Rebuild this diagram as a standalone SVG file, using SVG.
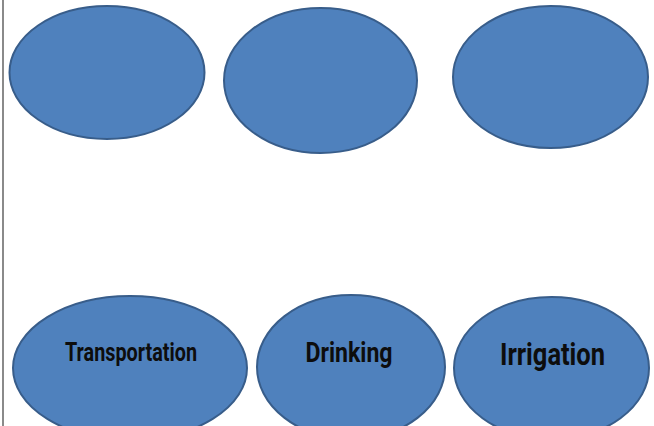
<svg xmlns="http://www.w3.org/2000/svg" width="654" height="426" viewBox="0 0 654 426">
<style>
.n{fill:#4F81BD;stroke:#385D8A;stroke-width:2}
.t{font-family:Roboto,"Liberation Sans",sans-serif;font-weight:bold;fill:#0d0d0d;text-anchor:middle}
</style>
<rect x="0" y="0" width="654" height="426" fill="#ffffff"/>
<line x1="3" y1="0" x2="3" y2="426" stroke="#8a8a8a" stroke-width="2"/>
<g id="connectors"></g>
<g id="node1"><ellipse class="n" cx="107" cy="72.5" rx="97.5" ry="66.5"/></g>
<g id="node2"><ellipse class="n" cx="320.5" cy="80.5" rx="96.5" ry="72.5"/></g>
<g id="node3"><ellipse class="n" cx="550.5" cy="77" rx="97.5" ry="71"/></g>
<g id="node4"><ellipse class="n" cx="130" cy="368" rx="117" ry="72"/>
<text class="t" x="131" y="361" font-size="25" textLength="132" lengthAdjust="spacingAndGlyphs">Transportation</text></g>
<g id="node5"><ellipse class="n" cx="351" cy="367" rx="94" ry="72"/>
<text class="t" x="349" y="362" font-size="27" textLength="87" lengthAdjust="spacingAndGlyphs">Drinking</text></g>
<g id="node6"><ellipse class="n" cx="551.5" cy="368" rx="97.5" ry="71"/>
<text class="t" x="552.5" y="365" font-size="32" textLength="105" lengthAdjust="spacingAndGlyphs">Irrigation</text></g>
</svg>
